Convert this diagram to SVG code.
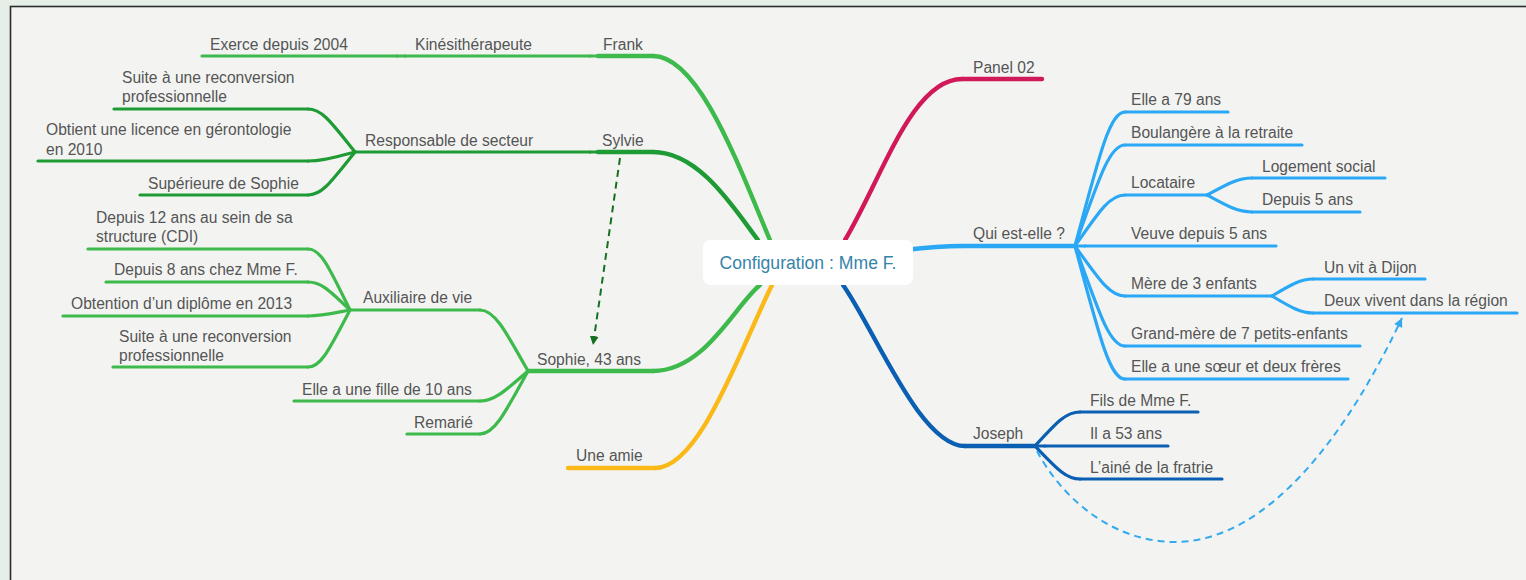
<svg xmlns="http://www.w3.org/2000/svg" width="1526" height="580" viewBox="0 0 1526 580">
<style>
.t{font-family:"Liberation Sans",Arial,Helvetica,sans-serif;font-size:15.6px;fill:#555555}
.c{font-family:"Liberation Sans",Arial,Helvetica,sans-serif;font-size:17.6px;fill:#3584a9}
.l{fill:none;stroke-linecap:round;stroke-width:3.2}
.m{fill:none;stroke-linecap:round;stroke-width:4.4}
.g1{stroke:#3dba4b}.g2{stroke:#1f9b35}.y{stroke:#fbb819}.r{stroke:#d1195a}.b1{stroke:#2aa8f5}.b2{stroke:#0b5fb2}
.d1{fill:none;stroke:#17701f;stroke-width:2;stroke-dasharray:7 5}
.d2{fill:none;stroke:#33a9f0;stroke-width:2;stroke-dasharray:7 5}
</style>
<defs>
<marker id="ag" viewBox="0 0 10 10" refX="10" refY="5" markerWidth="9" markerHeight="9" markerUnits="userSpaceOnUse" orient="auto"><path d="M0,0 L10,5 L0,10 z" fill="#17701f"/></marker>
<marker id="ab" viewBox="0 0 10 10" refX="10" refY="5" markerWidth="9" markerHeight="9" markerUnits="userSpaceOnUse" orient="auto"><path d="M0,0 L10,5 L0,10 z" fill="#33a9f0"/></marker>
</defs>
<rect x="0" y="0" width="1526" height="580" fill="#e5efe7"/>
<rect x="10.5" y="6.5" width="1540" height="600" fill="#f3f4f2" stroke="#2b2b2b" stroke-width="1.6"/>

<g id="connectors">
<path class="m g1" d="M770,240 C740,170 700,56 653,56"/>
<path class="m g2" d="M758,240 C735,210 700,152 653,152"/>
<path class="m g1" d="M760,285 C735,305 705,371 653,371"/>
<path class="m y" d="M772,285 C740,350 700,468 655,468"/>
<path class="m r" d="M845,240 C882,178 912,79 962,79"/>
<path class="m b1" d="M905,250 C930,247 945,246 962,246"/>
<path class="m b2" d="M843,285 C875,330 920,446 965,446"/>
<path class="l g1" d="M598,56 L590,56"/>
<path class="l g1" d="M405,56 L397,56"/>
<path class="l g2" d="M598,152 L590,152"/>
<path class="l g2" d="M355,152 C331,122 322,109 308,109"/>
<path class="l g2" d="M355,152 C331,158 322,161 308,161"/>
<path class="l g2" d="M355,152 C331,182 322,195 308,195"/>
<path class="l g1" d="M528,371 C504,328 494,310 480,310"/>
<path class="l g1" d="M528,371 C504,392 494,401 480,401"/>
<path class="l g1" d="M528,371 C504,415 494,434 480,434"/>
<path class="l g1" d="M350,310 C329,267 321,249 308,249"/>
<path class="l g1" d="M350,310 C329,290 321,282 308,282"/>
<path class="l g1" d="M350,310 C329,314 321,316 308,316"/>
<path class="l g1" d="M350,310 C329,350 321,367 308,367"/>
<path class="l b1" d="M1075,246 C1100,152 1110,112 1125,112"/>
<path class="l b1" d="M1075,246 C1100,175 1110,145 1125,145"/>
<path class="l b1" d="M1075,246 C1100,210 1110,195 1125,195"/>
<path class="l b1" d="M1075,246 L1085,246"/>
<path class="l b1" d="M1075,246 C1100,281 1110,296 1125,296"/>
<path class="l b1" d="M1075,246 C1100,316 1110,346 1125,346"/>
<path class="l b1" d="M1075,246 C1100,339 1110,379 1125,379"/>
<path class="l b1" d="M1207,195 C1229,183 1238,178 1252,178"/>
<path class="l b1" d="M1207,195 C1229,207 1238,212 1252,212"/>
<path class="l b1" d="M1272,296 C1292,284 1301,279 1313,279"/>
<path class="l b1" d="M1272,296 C1292,308 1301,313 1313,313"/>
<path class="l b2" d="M1035,446 C1057,422 1066,412 1080,412"/>
<path class="l b2" d="M1035,446 L1045,446"/>
<path class="l b2" d="M1035,446 C1057,469 1066,479 1080,479"/>
<path class="d1" d="M620,158 L593,345" marker-end="url(#ag)"/>
<path class="d2" d="M1037,451 C1060,495 1110,542 1175,542 C1250,542 1330,470 1402,318" marker-end="url(#ab)"/>
</g>

<g id="center">
<rect x="703" y="240" width="210" height="45" rx="8" fill="#ffffff"/>
<text class="c" x="808" y="269" text-anchor="middle">Configuration : Mme F.</text>
</g>

<g id="frank"><path class="m g1" d="M598,56 L653,56"/><text class="t" x="603" y="50">Frank</text></g>
<g id="kine"><path class="l g1" d="M405,56 L590,56"/><text class="t" x="415" y="50">Kinésithérapeute</text></g>
<g id="exerce"><path class="l g1" d="M202,56 L397,56"/><text class="t" x="210" y="50">Exerce depuis 2004</text></g>

<g id="sylvie"><path class="m g2" d="M598,152 L653,152"/><text class="t" x="602" y="146">Sylvie</text></g>
<g id="responsable"><path class="l g2" d="M355,152 L590,152"/><text class="t" x="365" y="146">Responsable de secteur</text></g>
<g id="suite1"><path class="l g2" d="M114,109 L308,109"/><text class="t" x="122" y="83">Suite à une reconversion<tspan x="122" y="102">professionnelle</tspan></text></g>
<g id="obtient"><path class="l g2" d="M38,161 L308,161"/><text class="t" x="46" y="135">Obtient une licence en gérontologie<tspan x="46" y="155">en 2010</tspan></text></g>
<g id="superieure"><path class="l g2" d="M140,195 L308,195"/><text class="t" x="148" y="189">Supérieure de Sophie</text></g>

<g id="sophie"><path class="m g1" d="M528,371 L653,371"/><text class="t" x="537" y="365">Sophie, 43 ans</text></g>
<g id="auxiliaire"><path class="l g1" d="M350,310 L480,310"/><text class="t" x="363" y="303">Auxiliaire de vie</text></g>
<g id="depuis12"><path class="l g1" d="M88,249 L308,249"/><text class="t" x="96" y="223">Depuis 12 ans au sein de sa<tspan x="96" y="242">structure (CDI)</tspan></text></g>
<g id="depuis8"><path class="l g1" d="M106,282 L308,282"/><text class="t" x="114" y="275">Depuis 8 ans chez Mme F.</text></g>
<g id="obtention"><path class="l g1" d="M63,316 L308,316"/><text class="t" x="71" y="309">Obtention d’un diplôme en 2013</text></g>
<g id="suite2"><path class="l g1" d="M113,367 L308,367"/><text class="t" x="119" y="342">Suite à une reconversion<tspan x="119" y="361">professionnelle</tspan></text></g>
<g id="fille"><path class="l g1" d="M294,401 L480,401"/><text class="t" x="302" y="395">Elle a une fille de 10 ans</text></g>
<g id="remarie"><path class="l g1" d="M407,434 L480,434"/><text class="t" x="414" y="428">Remarié</text></g>

<g id="amie"><path class="m y" d="M568,468 L655,468"/><text class="t" x="576" y="461">Une amie</text></g>

<g id="panel"><path class="m r" d="M962,79 L1042,79"/><text class="t" x="973" y="73">Panel 02</text></g>

<g id="qui"><path class="m b1" d="M962,246 L1075,246"/><text class="t" x="973" y="239">Qui est-elle ?</text></g>
<g id="elle79"><path class="l b1" d="M1125,112 L1228,112"/><text class="t" x="1131" y="105">Elle a 79 ans</text></g>
<g id="boulangere"><path class="l b1" d="M1125,145 L1302,145"/><text class="t" x="1131" y="138">Boulangère à la retraite</text></g>
<g id="locataire"><path class="l b1" d="M1125,195 L1207,195"/><text class="t" x="1131" y="188">Locataire</text></g>
<g id="logement"><path class="l b1" d="M1252,178 L1385,178"/><text class="t" x="1262" y="172">Logement social</text></g>
<g id="depuis5"><path class="l b1" d="M1252,212 L1360,212"/><text class="t" x="1262" y="205">Depuis 5 ans</text></g>
<g id="veuve"><path class="l b1" d="M1085,246 L1276,246"/><text class="t" x="1131" y="239">Veuve depuis 5 ans</text></g>
<g id="mere"><path class="l b1" d="M1125,296 L1272,296"/><text class="t" x="1131" y="289">Mère de 3 enfants</text></g>
<g id="dijon"><path class="l b1" d="M1313,279 L1425,279"/><text class="t" x="1324" y="273">Un vit à Dijon</text></g>
<g id="deux"><path class="l b1" d="M1313,313 L1517,313"/><text class="t" x="1324" y="306">Deux vivent dans la région</text></g>
<g id="grandmere"><path class="l b1" d="M1125,346 L1360,346"/><text class="t" x="1131" y="339">Grand-mère de 7 petits-enfants</text></g>
<g id="soeur"><path class="l b1" d="M1125,379 L1348,379"/><text class="t" x="1131" y="372">Elle a une sœur et deux frères</text></g>

<g id="joseph"><path class="m b2" d="M965,446 L1035,446"/><text class="t" x="973" y="439">Joseph</text></g>
<g id="fils"><path class="l b2" d="M1080,412 L1198,412"/><text class="t" x="1090" y="406">Fils de Mme F.</text></g>
<g id="il53"><path class="l b2" d="M1045,446 L1168,446"/><text class="t" x="1090" y="439">Il a 53 ans</text></g>
<g id="aine"><path class="l b2" d="M1080,479 L1222,479"/><text class="t" x="1090" y="473">L’ainé de la fratrie</text></g>
</svg>
